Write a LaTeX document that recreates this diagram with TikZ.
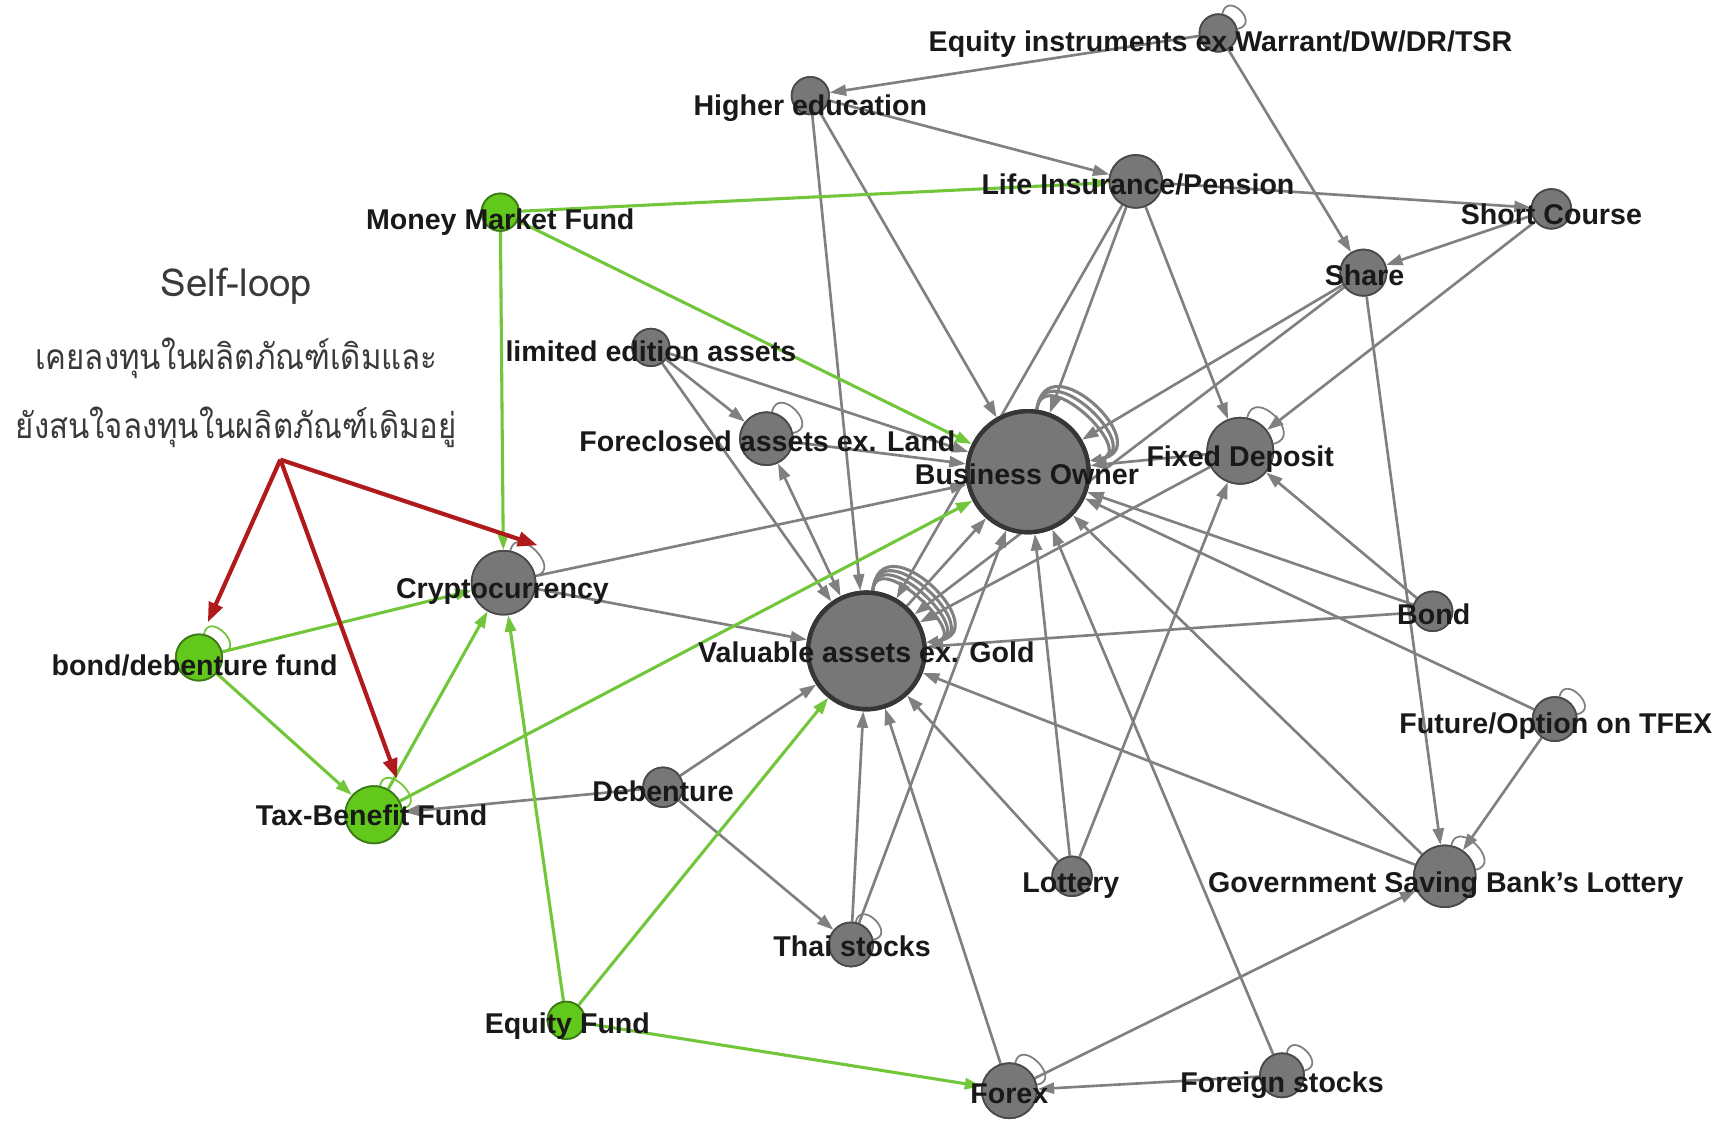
\documentclass[tikz,border=0pt]{standalone}
\usepackage{fontspec}
\setmainfont{Liberation Sans}
\newfontfamily\thaifont[Script=Thai]{Loma}
\usetikzlibrary{arrows.meta}
\definecolor{ndfill}{HTML}{777777}
\definecolor{ndline}{HTML}{4A4A4A}
\definecolor{bigline}{HTML}{363636}
\definecolor{grfill}{HTML}{62C81C}
\definecolor{grline}{HTML}{3C7A16}
\definecolor{edgegray}{HTML}{808080}
\definecolor{edgegreen}{HTML}{72C63A}
\definecolor{annred}{HTML}{B01A1C}
\definecolor{anntext}{HTML}{3A3A3A}
\newcommand\selfloop[3][sloop]{\draw[#1] (#2.78) .. controls +(78:#3) and +(12:#3) .. (#2.12);}
\begin{document}
\begin{tikzpicture}[x=1pt,y=1pt,
  >={Triangle[length=15pt,width=10pt]},
  gn/.style={circle,fill=ndfill,draw=ndline,line width=1.6pt,inner sep=0pt,minimum size=#1},
  bign/.style={circle,fill=ndfill,draw=bigline,line width=4pt,inner sep=0pt,minimum size=#1},
  grn/.style={circle,fill=grfill,draw=grline,line width=1.6pt,inner sep=0pt,minimum size=#1},
  lbl/.style={font=\bfseries\fontsize{26}{30}\selectfont,text=black!90,inner sep=0pt,anchor=base},
  ge/.style={draw=edgegray,line width=2.4pt,->},
  gre/.style={draw=edgegreen,line width=2.8pt,->,>={Triangle[length=15pt,width=10pt]}},
  sloop/.style={draw=edgegray,line width=1.6pt},
  grloop/.style={draw=edgegreen,line width=1.6pt},
  bigloop/.style={draw=edgegray,line width=2.8pt,->,>={Triangle[length=11pt,width=8pt]}},
  redarr/.style={draw=annred,line width=3.8pt,-{Triangle[length=18pt,width=13pt]}},
  anno/.style={font=\thaifont\fontsize{32}{38}\selectfont,text=anntext,inner sep=0pt,anchor=base}
]
\useasboundingbox (0,0) rectangle (1568,-1019);
\fill[white] (0,0) rectangle (1568,-1019);

% ---------- nodes (circles) ----------
\node[gn=34] (eqi) at (1108,-30) {};
\node[gn=34] (hed) at (737,-87) {};
\node[gn=48] (life) at (1033,-165) {};
\node[gn=36] (sc) at (1411,-190) {};
\node[gn=42] (share) at (1240,-248) {};
\node[grn=34] (mmf) at (455,-193) {};
\node[gn=34] (lim) at (592,-316) {};
\node[gn=48] (fc) at (697,-399) {};
\node[bign=110] (bo) at (935,-429) {};
\node[gn=60] (fd) at (1128,-410) {};
\node[gn=58] (crypto) at (458,-530) {};
\node[grn=42] (bdf) at (181,-598) {};
\node[bign=106] (val) at (788,-592) {};
\node[gn=36] (bond) at (1303,-556) {};
\node[gn=40] (tfex) at (1414,-654) {};
\node[grn=52] (tb) at (340,-741) {};
\node[gn=36] (deb) at (603,-716) {};
\node[gn=36] (lot) at (975,-797) {};
\node[gn=56] (gsb) at (1314,-797) {};
\node[gn=40] (thai) at (774,-859) {};
\node[grn=34] (ef) at (515,-928) {};
\node[gn=50] (forex) at (918,-992) {};
\node[gn=40] (fs) at (1166,-978) {};

% ---------- gray edges ----------
\draw[ge] (eqi) -- (hed);
\draw[ge] (eqi) -- (share);
\draw[ge] (hed) -- (life);
\draw[ge] (hed) -- (bo);
\draw[ge] (hed) -- (val);
\draw[ge] (life) -- (sc);
\draw[ge] (life) -- (bo);
\draw[ge] (life) -- (val);
\draw[ge] (life) -- (fd);
\draw[ge] (sc) -- (share);
\draw[ge] (sc) -- (fd);
\draw[ge] (share) -- (bo);
\draw[ge] (share) -- (val);
\draw[ge] (share) -- (gsb);
\draw[ge] (lim) -- (fc);
\draw[ge] (lim) -- (bo);
\draw[ge] (lim) -- (val);
\draw[ge] (fc) -- (bo);
\draw[ge,<->] (val) -- (fc);
\draw[ge] (crypto) -- (bo);
\draw[ge] (crypto) -- (val);
\draw[ge] (fd) -- (bo);
\draw[ge] (fd) -- (val);
\draw[ge] (bond) -- (fd);
\draw[ge] (bond) -- (bo);
\draw[ge] (bond) -- (val);
\draw[ge] (tfex) -- (bo);
\draw[ge] (tfex) -- (gsb);
\draw[ge] (gsb) -- (bo);
\draw[ge] (gsb) -- (val);
\draw[ge] (lot) -- (val);
\draw[ge] (lot) -- (bo);
\draw[ge] (lot) -- (fd);
\draw[ge] (thai) -- (val);
\draw[ge] (thai) -- (bo);
\draw[ge] (forex) -- (val);
\draw[ge] (forex) -- (gsb);
\draw[ge] (fs) -- (forex);
\draw[ge] (fs) -- (bo);
\draw[ge] (deb) -- (tb);
\draw[ge] (deb) -- (val);
\draw[ge] (deb) -- (thai);
\draw[ge] (val) -- (bo);
% ---------- green edges ----------
\draw[gre] (mmf) -- (life);
\draw[gre] (mmf) -- (bo);
\draw[gre] (mmf) -- (crypto);
\draw[gre] (bdf) -- (crypto);
\draw[gre] (bdf) -- (tb);
\draw[gre] (tb) -- (crypto);
\draw[gre] (tb) -- (bo);
\draw[gre] (ef) -- (crypto);
\draw[gre] (ef) -- (val);
\draw[gre] (ef) -- (forex);

% ---------- self loops ----------
\selfloop{eqi}{22}
\selfloop{fc}{26}
\selfloop{fd}{30}
\selfloop{crypto}{26}
\selfloop{thai}{22}
\selfloop{forex}{24}
\selfloop{fs}{22}
\selfloop{gsb}{26}
\selfloop{tfex}{22}
\selfloop[grloop]{bdf}{22}
\selfloop[grloop]{tb}{24}
\foreach \d in {44,54,64} {\draw[bigloop] (bo.82) .. controls +(82:\d) and +(10:\d) .. (bo.10);}
\foreach \d in {40,49,58,67} {\draw[bigloop] (val.84) .. controls +(84:\d) and +(8:\d) .. (val.8);}

% redraw node circles over edges
\node[gn=34] at (eqi) {};
\node[gn=34] at (hed) {};
\node[gn=48] at (life) {};
\node[gn=36] at (sc) {};
\node[gn=42] at (share) {};
\node[grn=34] at (mmf) {};
\node[gn=34] at (lim) {};
\node[gn=48] at (fc) {};
\node[bign=110] at (bo) {};
\node[gn=60] at (fd) {};
\node[gn=58] at (crypto) {};
\node[grn=42] at (bdf) {};
\node[bign=106] at (val) {};
\node[gn=36] at (bond) {};
\node[gn=40] at (tfex) {};
\node[grn=52] at (tb) {};
\node[gn=36] at (deb) {};
\node[gn=36] at (lot) {};
\node[gn=56] at (gsb) {};
\node[gn=40] at (thai) {};
\node[grn=34] at (ef) {};
\node[gn=50] at (forex) {};
\node[gn=40] at (fs) {};

% ---------- labels ----------
\node[lbl] (l-eqi) at (1110,-47) {Equity instruments ex.Warrant/DW/DR/TSR};
\node[lbl] (l-hed) at (737,-105) {Higher education};
\node[lbl] (l-life) at (1035,-177) {Life Insurance/Pension};
\node[lbl] (l-sc) at (1411,-204) {Short Course};
\node[lbl] (l-share) at (1241,-260) {Share};
\node[lbl] (l-mmf) at (455,-209) {Money Market Fund};
\node[lbl] (l-lim) at (592,-329) {limited edition assets};
\node[lbl] (l-fc) at (698,-411) {Foreclosed assets ex. Land};
\node[lbl] (l-bo) at (934,-441) {Business Owner};
\node[lbl] (l-fd) at (1128,-424) {Fixed Deposit};
\node[lbl] (l-crypto) at (457,-544) {Cryptocurrency};
\node[lbl] (l-bdf) at (177,-614) {bond/debenture fund};
\node[lbl] (l-val) at (788,-603) {Valuable assets ex. Gold};
\node[lbl] (l-bond) at (1304,-568) {Bond};
\node[lbl] (l-tfex) at (1415,-667) {Future/Option on TFEX};
\node[lbl] (l-tb) at (338,-751) {Tax-Benefit Fund};
\node[lbl] (l-deb) at (603,-729) {Debenture};
\node[lbl] (l-lot) at (974,-812) {Lottery};
\node[lbl] (l-gsb) at (1315,-812) {Government Saving Bank's Lottery};
\node[lbl] (l-thai) at (775,-870) {Thai stocks};
\node[lbl] (l-ef) at (516,-940) {Equity Fund};
\node[lbl] (l-forex) at (918,-1004) {Forex};
\node[lbl] (l-fs) at (1166,-994) {Foreign stocks};

% ---------- annotation ----------
\node[anno,font=\thaifont\fontsize{35}{40}\selectfont] (a-title) at (215,-270) {Self-loop};
\node[anno] (a-line1) at (215,-336) {\scalebox{0.885}[1]{เคยลงทุนในผลิตภัณฑ์เดิมและ}};
\node[anno] (a-line2) at (215,-399) {\scalebox{0.885}[1]{ยังสนใจลงทุนในผลิตภัณฑ์เดิมอยู่}};
\coordinate (apex) at (255,-418);
\coordinate (tip-bdf) at (189,-566);
\coordinate (tip-tb) at (361,-708);
\coordinate (tip-crypto) at (489,-496);
\draw[redarr] (apex) -- (tip-bdf);
\draw[redarr] (apex) -- (tip-tb);
\draw[redarr] (apex) -- (tip-crypto);
\end{tikzpicture}
\end{document}
